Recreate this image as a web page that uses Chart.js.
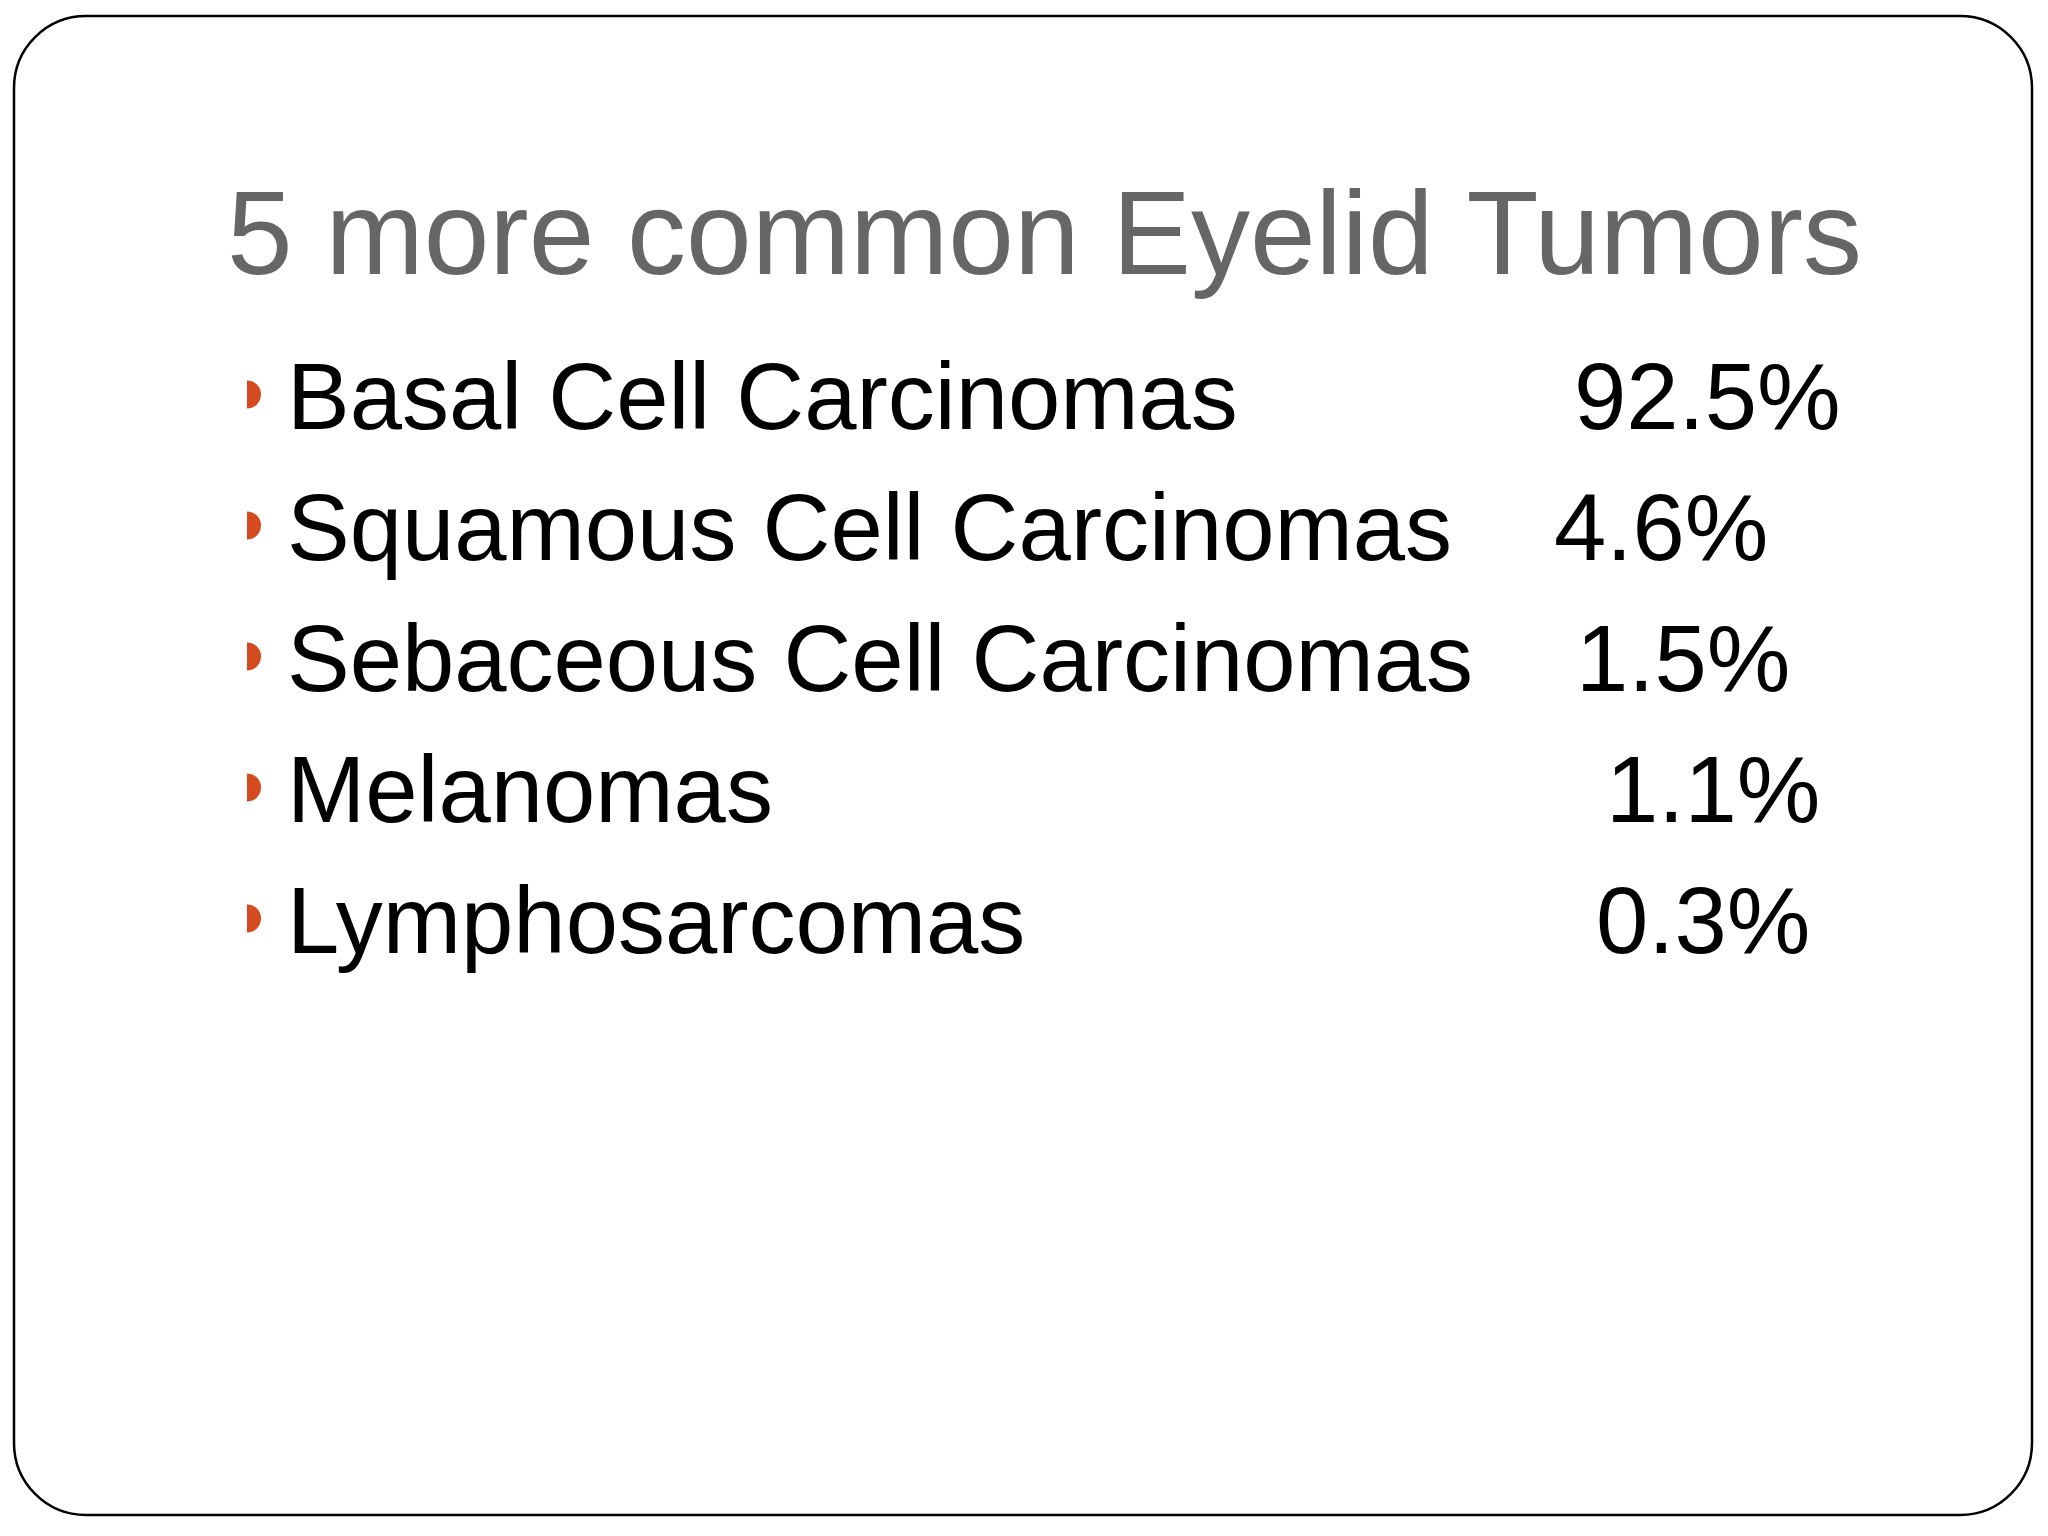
<!DOCTYPE html>
<html>
<head>
<meta charset="utf-8">
<script src="https://cdn.jsdelivr.net/npm/chart.js@4"></script>
<style>
  html, body { margin: 0; padding: 0; background: #fff; }
  #wrap { width: 2048px; height: 1536px; }
</style>
</head>
<body>
<div id="wrap"><canvas id="slide"></canvas></div>
<script>
const title = '5 more common Eyelid Tumors';
const tumors = ['Basal Cell Carcinomas', 'Squamous Cell Carcinomas', 'Sebaceous Cell Carcinomas', 'Melanomas', 'Lymphosarcomas'];
const shares = [92.5, 4.6, 1.5, 1.1, 0.3];

// where each percentage starts, relative to the bullet column (matches the slide's uneven tabs)
const pctOffset = [1327, 1307, 1329, 1359, 1349];
const FONT = '"Liberation Sans", Arial, sans-serif';

const slidePlugin = {
    id: 'slide',
    beforeDraw(chart) {
        const c = chart.ctx;
        c.save();
        c.fillStyle = '#fff';
        c.fillRect(0, 0, chart.width, chart.height);
        c.strokeStyle = '#000';
        c.lineWidth = 2.5;
        c.beginPath();
        c.roundRect(14, 16, 2018, 1499, 72);
        c.stroke();
        c.fillStyle = '#666666';
        c.font = '118px ' + FONT;
        c.fillText(title, 227, 274);
        c.restore();
    },
    afterDatasetsDraw(chart) {
        const c = chart.ctx;
        const y = chart.scales.y;
        const left = chart.chartArea.left;
        c.save();
        c.fillStyle = '#000';
        c.font = '94px ' + FONT;
        tumors.forEach((name, i) => {
            const py = y.getPixelForValue(i) + 34;
            c.fillText(name, left + 40, py);
            c.fillText(shares[i].toFixed(1) + '%', left + pctOffset[i], py);
        });
        c.restore();
    }
};

new Chart(document.getElementById('slide'), {
    type: 'scatter',
    data: {
        labels: tumors,
        datasets: [{
            data: tumors.map((name) => ({ x: 0, y: name })),
            pointRadius: 14,
            pointBackgroundColor: '#d54a1f',
            pointBorderWidth: 0
        }]
    },
    options: {
        responsive: true,
        maintainAspectRatio: false,
        animation: false,
        layout: { padding: { left: 247, right: 0, top: 329, bottom: 552 } },
        plugins: { legend: { display: false }, tooltip: { enabled: false } },
        scales: {
            x: { type: 'linear', min: 0, max: 1, display: false },
            y: { type: 'category', labels: tumors, offset: true, display: false }
        }
    },
    plugins: [slidePlugin]
});
</script>
</body>
</html>
